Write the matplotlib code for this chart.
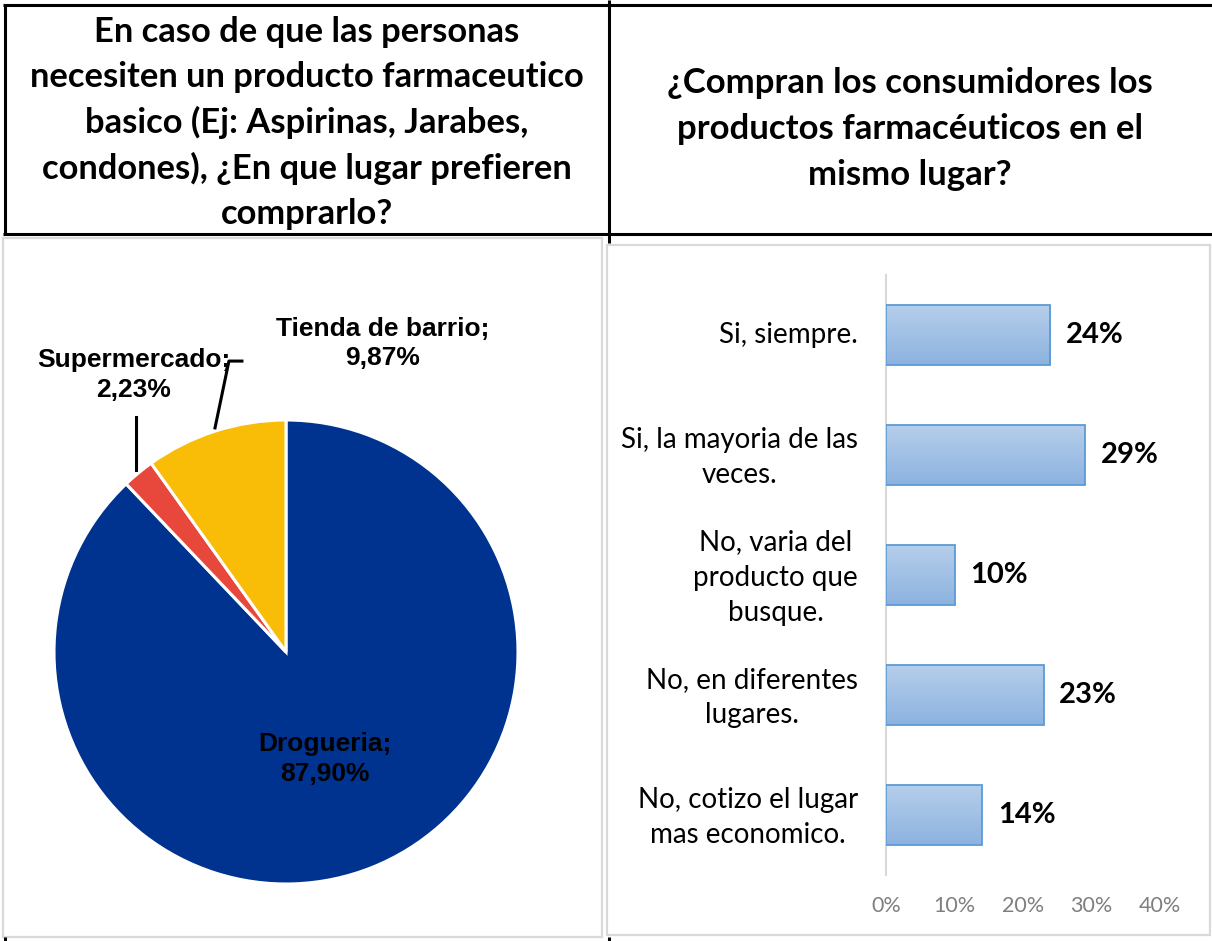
import matplotlib
matplotlib.use("Agg")
import matplotlib.pyplot as plt
import numpy as np
from matplotlib.lines import Line2D
from matplotlib.patches import Rectangle
from matplotlib.colors import LinearSegmentedColormap
from matplotlib.transforms import ScaledTranslation

# ---------------- data ----------------
pie_labels = ["Drogueria", "Supermercado", "Tienda de barrio"]
pie_values = [87.90, 2.23, 9.87]
pie_colors = ["#00338F", "#E8473B", "#F9BD08"]

bar_categories = ["Si, siempre.",
                  "Si, la mayoria de las\nveces.",
                  "No, varia del\nproducto que\nbusque.",
                  "No, en diferentes\nlugares.",
                  "No, cotizo el lugar\nmas economico."]
bar_values = [0.24, 0.29, 0.10, 0.23, 0.14]
x_ticks = [0.0, 0.1, 0.2, 0.3, 0.4]
x_tick_labels = ["0%", "10%", "20%", "30%", "40%"]

title_left = ("En caso de que las personas\nnecesiten un producto farmaceutico\n"
              "basico (Ej: Aspirinas, Jarabes,\ncondones), ¿En que lugar prefieren\ncomprarlo?")
title_right = "¿Compran los consumidores los\nproductos farmacéuticos en el\nmismo lugar?"

# ---------------- figure ----------------
W, H = 1212, 941
fig = plt.figure(figsize=(W / 100, H / 100), dpi=100)
fig.patch.set_facecolor("white")


def box(l, t, r, b):
    return [l / W, 1 - b / H, (r - l) / W, (b - t) / H]


CAL = ["Lato", "DejaVu Sans"]
ARI = ["Liberation Sans", "DejaVu Sans"]

# overlay for table lines / headers
ov = fig.add_axes([0, 0, 1, 1], zorder=0)
ov.set_xlim(0, W)
ov.set_ylim(H, 0)
ov.axis("off")
gray = "#D9D9D9"
ov.add_patch(Rectangle((3, 238), 599, 699, fill=False, ec=gray, lw=1.6))
ov.add_patch(Rectangle((607, 245), 603, 690, fill=False, ec=gray, lw=1.6))
for xs, ys in [([3, 1212], [5, 5]), ([3, 1212], [234, 234]), ([5, 5], [4, 234]),
               ([609, 609], [0, 243]), ([5, 5], [937, 941]), ([609, 609], [937, 941])]:
    ov.add_line(Line2D(xs, ys, color="black", lw=2.2, solid_capstyle="butt"))
ov.text(307, 123, title_left, ha="center", va="center", fontsize=24.8,
        fontweight="bold", family=CAL, linespacing=1.48)
ov.text(910, 129, title_right, ha="center", va="center", fontsize=25,
        fontweight="bold", family=CAL, linespacing=1.54)

# ---------------- pie ----------------
pax = fig.add_axes(box(54, 420, 518, 884), zorder=1)
wedges, _ = pax.pie(pie_values, colors=pie_colors, startangle=90, counterclock=False,
                    wedgeprops=dict(edgecolor="white", linewidth=2.2), radius=1)
pax.set_xlim(-1, 1)
pax.set_ylim(-1, 1)
pax.set_aspect("equal")


def fmt(lbl, v):
    return f"{lbl};\n{v:.2f}%".replace(".", ",")


label_pos = [(0.168, -0.46), (-0.655, 1.195), (0.418, 1.33)]
for lbl, v, (lx, ly) in zip(pie_labels, pie_values, label_pos):
    pax.text(lx, ly, fmt(lbl, v), ha="center", va="center", fontsize=19,
             fontweight="bold", family=ARI, color="black", clip_on=False,
             linespacing=1.3)
# leader lines
pax.add_line(Line2D([-0.647, -0.647], [0.784, 1.013], color="black", lw=2.2, clip_on=False))
pax.add_line(Line2D([-0.306, -0.246, -0.19], [0.966, 1.254, 1.254], color="black",
                    lw=2.2, clip_on=False))

# ---------------- bars ----------------
bax = fig.add_axes(box(886, 275, 1160, 875), zorder=1)
ypos = np.arange(len(bar_values))
bars = bax.barh(ypos, bar_values, height=0.5, color="none", edgecolor="#5B9BD5", linewidth=1.3,
                zorder=3)
cmap = LinearSegmentedColormap.from_list("g", ["#B5CEEA", "#8DB3E0"])
grad = np.linspace(0, 1, 64).reshape(-1, 1)
for b in bars:
    x0, y0, w, h = b.get_x(), b.get_y(), b.get_width(), b.get_height()
    im = bax.imshow(grad, cmap=cmap, aspect="auto", origin="upper",
                    extent=(x0, x0 + w, y0 + h, y0), zorder=2)
    im.set_clip_path(b)
bax.set_xlim(0, 0.4)
bax.set_ylim(len(bar_values) - 0.5, -0.5)
bax.set_yticks(ypos)
bax.set_yticklabels([])
for cat, y in zip(bar_categories, ypos):
    dy = -2.5 if "\n" in cat else 0
    tr = bax.get_yaxis_transform() + ScaledTranslation(-28 / 100, dy / 100, fig.dpi_scale_trans)
    bax.text(0, y, cat, transform=tr, ha="right", va="center", family=CAL, fontsize=20,
             color="black", multialignment="center", linespacing=1.46)
bax.set_xticks(x_ticks)
bax.set_xticklabels(x_tick_labels, family=CAL, fontsize=15.5, color="#7F7F7F")
bax.tick_params(axis="both", length=0)
bax.tick_params(axis="x", pad=15)
for s in ["top", "right", "bottom"]:
    bax.spines[s].set_visible(False)
bax.spines["left"].set_color(gray)
bax.spines["left"].set_linewidth(1.5)
bax.set_facecolor("none")
for v, y in zip(bar_values, ypos):
    bax.text(v + 0.023, y, f"{v * 100:.0f}%", ha="left", va="center", fontsize=21,
             fontweight="bold", family=CAL, color="black")

fig.savefig("out.png", dpi=100)
